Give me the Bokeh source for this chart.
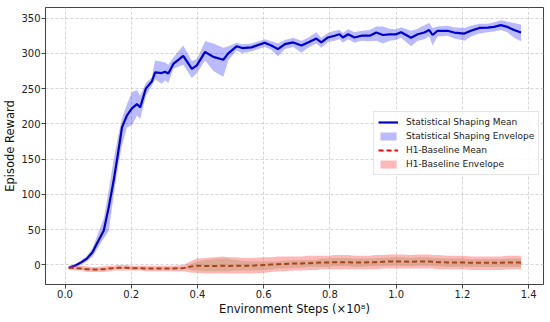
from bokeh.plotting import figure
from bokeh.models import Range1d, FixedTicker, Legend, LegendItem, PrintfTickFormatter
from bokeh.embed import file_html
from bokeh.resources import INLINE

# ---- data ----
steps = [0.011, 0.03, 0.05, 0.066, 0.083, 0.096, 0.117, 0.132, 0.147, 0.16,
         0.172, 0.187, 0.202, 0.217, 0.227, 0.244, 0.262, 0.272, 0.292, 0.302,
         0.312, 0.327, 0.357, 0.383, 0.398, 0.423, 0.448, 0.478, 0.493, 0.518,
         0.535, 0.563, 0.603, 0.623, 0.643, 0.664, 0.689, 0.714, 0.734, 0.759,
         0.774, 0.794, 0.814, 0.829, 0.839, 0.855, 0.874, 0.895, 0.92, 0.94,
         0.96, 0.98, 1.0, 1.015, 1.045, 1.065, 1.085, 1.1, 1.11, 1.125,
         1.155, 1.175, 1.206, 1.226, 1.251, 1.276, 1.296, 1.316, 1.336, 1.356,
         1.377]

shaping_mean = [-4, -1, 4, 9, 18, 30, 49, 82, 120, 158,
                195, 212, 222, 228, 223.5, 250, 260, 273, 272, 274,
                271.5, 285, 296.5, 278, 283, 302, 295, 291, 300, 310,
                307.5, 308.5, 315, 311, 306, 313, 315.5, 311, 315.5, 321,
                315.5, 322.5, 325, 327, 322.5, 327, 322.5, 325, 325, 329.5,
                326, 327, 327, 330, 322, 327, 329.5, 333, 326, 332,
                332, 329.5, 328, 332, 336, 336.5, 337.5, 340, 337.5, 333,
                329.5]
shaping_lower = [-5, -3, 1, 5, 12, 22, 38, 48, 100, 140,
                 170, 195, 198, 212, 207, 240, 254, 263, 257, 262,
                 258, 278, 284, 265, 272, 290, 275, 267, 290, 304,
                 300, 303, 309, 305, 296, 306, 309, 301, 308, 314,
                 308, 316, 318, 320, 315, 320, 315, 318, 317, 318,
                 314, 318, 319, 322, 310, 318, 320, 324, 311, 324,
                 325, 321, 318, 324, 328, 330, 331, 333, 330, 322,
                 317]
shaping_upper = [-3, 1, 7, 13, 24, 40, 66, 106, 150, 182,
                 208, 228, 245, 248, 240, 258, 266, 290, 288, 287,
                 284, 294, 311, 289, 292, 317, 314, 308, 310, 315,
                 313, 314, 320, 317, 314, 319, 322, 318, 322, 330,
                 322, 329, 332, 333, 329, 334, 330, 332, 333, 338,
                 338, 335, 334, 337, 332, 335, 340, 343, 336, 338,
                 339, 337, 336, 339, 342, 342, 344, 347, 345, 343,
                 341]

baseline_mean = [-4, -4.5, -5, -6, -6.5, -6.5, -6, -5, -4.5, -4,
                 -4, -4, -4.5, -4.5, -4.5, -5, -5, -5, -5, -5,
                 -5, -5, -4.5, -2, -1, -1.5, -1.5, -1, -1.5, -1,
                 -1, -1, 0, 0.5, 1, 1.5, 2, 2, 2.5, 3,
                 3.5, 3.5, 4, 4, 4, 4, 3.5, 3.5, 4, 4,
                 4.5, 5, 5, 5, 4.5, 5, 5, 5, 4.5, 4,
                 3.5, 3.5, 3.5, 3, 3, 3, 3, 3, 3.5, 3.5,
                 3.5]
baseline_lower = [-7, -8, -8, -10, -10, -10, -10, -9, -8, -8,
                  -8, -8, -8, -8, -8, -9, -9, -9, -9, -9,
                  -9, -9, -9, -11, -11, -12, -12, -12, -12, -12,
                  -12, -12, -11, -10, -9, -9, -8, -8, -7, -7,
                  -6, -6, -6, -6, -6, -6, -6, -6, -6, -6,
                  -5, -5, -5, -5, -5, -5, -5, -5, -5, -6,
                  -6, -6, -6, -7, -7, -7, -7, -7, -6, -6,
                  -6]
baseline_upper = [-1, 0, -1, -2, -3, -3, -2, -1, -1, 0,
                  0, 0, -1, -1, -1, -1, -1, -1, -1, -1,
                  -1, -1, 0, 6, 9, 10, 11, 12, 11, 11,
                  10, 10, 11, 11, 12, 12, 12, 12, 13, 13,
                  13, 13, 14, 14, 14, 14, 13, 13, 13, 14,
                  14, 15, 15, 15, 14, 15, 15, 15, 14, 14,
                  13, 13, 13, 12, 12, 12, 12, 12, 13, 13,
                  13]
baseline_core_lower = [-5, -5.5, -6, -7, -7.5, -7.5, -7, -6, -5.5, -5,
                       -5, -5, -5.5, -5.5, -5.5, -6, -6, -6, -6, -6,
                       -6, -6, -5.5, -7, -8, -9, -9, -9, -9, -8,
                       -8, -8, -7, -6, -5, -5, -4, -4, -3, -3,
                       -3, -3, -2, -2, -2, -2, -3, -3, -2, -2,
                       -2, -1, -1, -1, -2, -1, -1, -1, -2, -2,
                       -3, -3, -3, -3, -3, -3, -3, -3, -3, -3,
                       -3]
baseline_core_upper = [-3, -3.5, -4, -5, -5.5, -5.5, -5, -4, -3.5, -3,
                       -3, -3, -3.5, -3.5, -3.5, -4, -4, -4, -4, -4,
                       -4, -4, -3.5, 2, 5, 7, 8, 9, 9, 7,
                       6, 5, 5, 5, 5, 6, 7, 7, 7, 7,
                       9, 9, 10, 10, 10, 10, 9, 9, 9, 10,
                       10, 11, 11, 11, 10, 11, 11, 11, 10, 10,
                       9, 9, 9, 8, 8, 8, 8, 8, 9, 9,
                       9]

x_ticks = [0.0, 0.2, 0.4, 0.6, 0.8, 1.0, 1.2, 1.4]
y_ticks = [0, 50, 100, 150, 200, 250, 300, 350]
labels = ["Statistical Shaping Mean", "Statistical Shaping Envelope",
          "H1-Baseline Mean", "H1-Baseline Envelope"]

FONT = "DejaVu Sans"

p = figure(width=550, height=322, output_backend="svg", toolbar_location=None,
           x_range=Range1d(-0.059, 1.445), y_range=Range1d(-27.7, 365),
           min_border_left=43, min_border_right=7, min_border_top=7,
           min_border_bottom=38)

p.background_fill_color = "white"
p.outline_line_color = "#444444"
p.outline_line_width = 1

for ax in (p.xaxis[0], p.yaxis[0]):
    ax.axis_line_color = "#444444"
    ax.major_tick_line_color = "#444444"
    ax.major_tick_out = 4
    ax.major_tick_in = 0
    ax.minor_tick_line_color = None
    ax.major_label_text_font = FONT
    ax.major_label_text_font_size = "10px"
    ax.major_label_text_color = "#222222"
    ax.axis_label_text_font = FONT
    ax.axis_label_text_font_size = "11.5px"
    ax.axis_label_text_font_style = "normal"
    ax.axis_label_text_color = "#111111"
    ax.major_label_standoff = 1
    ax.axis_label_standoff = 1

p.xaxis.ticker = FixedTicker(ticks=x_ticks)
p.xaxis.formatter = PrintfTickFormatter(format="%.1f")
p.yaxis.ticker = FixedTicker(ticks=y_ticks)
p.xaxis.axis_label = "Environment Steps (×10⁸)"
p.yaxis.axis_label = "Episode Reward"

p.xgrid.ticker = FixedTicker(ticks=x_ticks)
p.ygrid.ticker = FixedTicker(ticks=y_ticks)
for g in (p.xgrid[0], p.ygrid[0]):
    g.grid_line_color = "#cccccc"
    g.grid_line_dash = "3 2"
    g.grid_line_alpha = 0.8

r_env = p.varea(x=steps, y1=shaping_lower, y2=shaping_upper,
                fill_color="#0000ff", fill_alpha=0.27)
r_mean = p.line(x=steps, y=shaping_mean, line_color="#0000cd", line_width=2.2)

r_benv = p.varea(x=steps, y1=baseline_lower, y2=baseline_upper,
                 fill_color="#ff3030", fill_alpha=0.35)
p.varea(x=steps, y1=baseline_core_lower, y2=baseline_core_upper,
        fill_color="#c8a27f", fill_alpha=0.6)
p.line(x=steps, y=baseline_mean, line_color="#a8401c", line_width=2,
       line_dash="5 3")
# legend sample for the baseline mean (pure red dashes), drawn off-range
r_bleg = p.line(x=[-5.0, -4.0], y=[-900.0, -900.0], line_color="#ff0000",
                line_width=2, line_dash="5 3")

legend = Legend(items=[
    LegendItem(label=labels[0], renderers=[r_mean]),
    LegendItem(label=labels[1], renderers=[r_env]),
    LegendItem(label=labels[2], renderers=[r_bleg]),
    LegendItem(label=labels[3], renderers=[r_benv]),
], location=(328, 109))
legend.label_text_font = FONT
legend.label_text_font_size = "9px"
legend.label_text_color = "#222222"
legend.label_height = 12
legend.glyph_height = 10
legend.glyph_width = 20
legend.spacing = 2
legend.padding = 4
legend.margin = 0
legend.label_standoff = 8
legend.border_line_color = "#cccccc"
legend.border_line_width = 1
legend.background_fill_alpha = 0.85
p.add_layout(legend, "center")

open("out.html", "w").write(file_html(p, INLINE))
